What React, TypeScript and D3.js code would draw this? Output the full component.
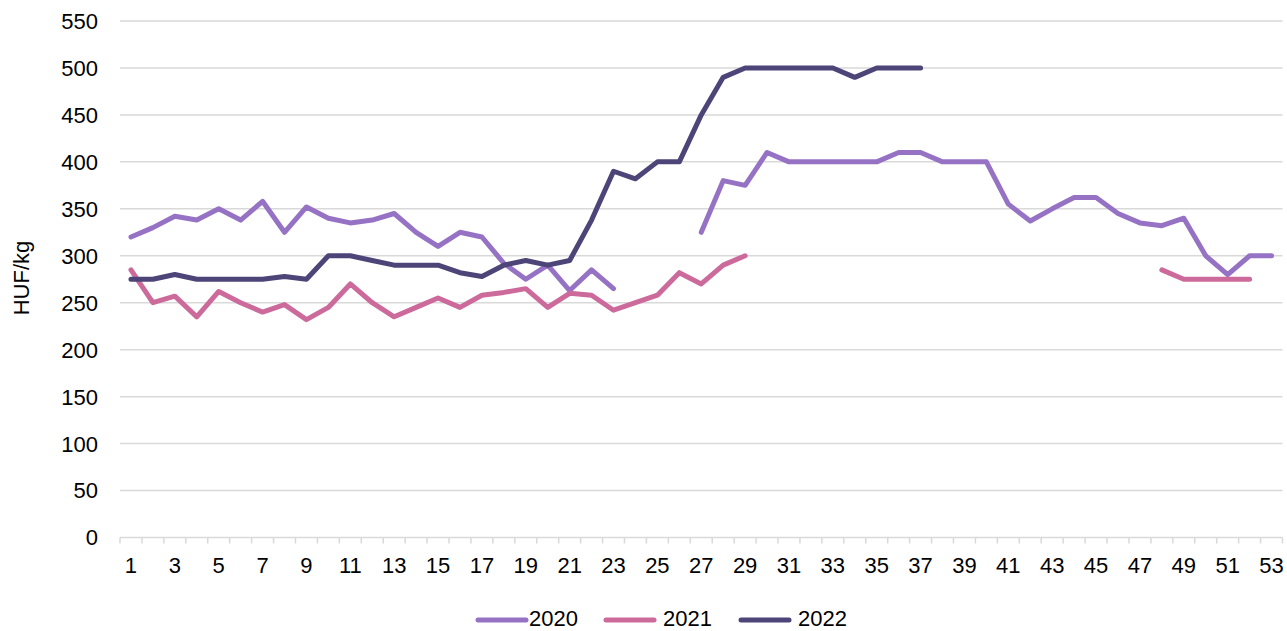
import { line, scaleBand, scaleLinear } from "d3";

const WIDTH = 1287;
const HEIGHT = 631;
const LEFT = 120;
const RIGHT = 1282.5;
const TOP = 21;
const BOTTOM = 537.5;

const weeks = Array.from({ length: 53 }, (_, i) => i + 1);
const yTicks = [0, 50, 100, 150, 200, 250, 300, 350, 400, 450, 500, 550];

const y2020 = [
  320, 330, 342, 338, 350, 338, 358, 325, 352, 340,
  335, 338, 345, 325, 310, 325, 320, 292, 275, 290,
  263, 285, 265, null, null, null, 325, 380, 375, 410,
  400, 400, 400, 400, 400, 410, 410, 400, 400, 400,
  355, 337, 350, 362, 362, 345, 335, 332, 340, 300,
  280, 300, 300,
];
const y2021 = [
  285, 250, 257, 235, 262, 250, 240, 248, 232, 245,
  270, 250, 235, 245, 255, 245, 258, 261, 265, 245,
  260, 258, 242, 250, 258, 282, 270, 290, 300, null,
  null, null, null, null, null, null, null, null, null, null,
  null, null, null, null, null, null, null, 285, 275, 275,
  275, 275, null,
];
const y2022 = [
  275, 275, 280, 275, 275, 275, 275, 278, 275, 300,
  300, 295, 290, 290, 290, 282, 278, 290, 295, 290,
  295, 338, 390, 382, 400, 400, 450, 490, 500, 500,
  500, 500, 500, 490, 500, 500, 500,
];

const seriesList = [
  { name: "2020", values: y2020, color: "#9672c5" },
  { name: "2021", values: y2021, color: "#cc6b9b" },
  { name: "2022", values: y2022, color: "#4d4478" },
];

const FONT = "Liberation Sans, Arial, sans-serif";
const FONT_SIZE = 22;
const LEGEND_Y = 619;

export default function App() {
  const x = scaleBand<number>().domain(weeks).range([LEFT, RIGHT]).padding(0);
  const y = scaleLinear().domain([0, 550]).range([BOTTOM, TOP]);
  const half = x.bandwidth() / 2;

  const pathFor = (values: (number | null)[]) =>
    line<number | null>()
      .defined((d) => d != null)
      .x((_, i) => (x(weeks[i]) ?? 0) + half)
      .y((d) => y(d as number))(values) ?? "";

  const legendItems = [
    { lx: 478, tx: 529 },
    { lx: 606, tx: 663 },
    { lx: 741, tx: 798 },
  ];

  return (
    <div style={{ position: "absolute", left: 0, top: 0 }}>
      <svg width={WIDTH} height={HEIGHT} style={{ display: "block", background: "#fff" }}>
        {yTicks.map((t) => (
          <g key={t}>
            {t > 0 && (
              <line x1={LEFT} x2={RIGHT} y1={y(t)} y2={y(t)} stroke="#d9d9d9" strokeWidth={1.5} />
            )}
            <text
              x={98}
              y={y(t)}
              dy="0.36em"
              textAnchor="end"
              fontFamily={FONT}
              fontSize={FONT_SIZE}
              fill="#000"
            >
              {t}
            </text>
          </g>
        ))}
        <line x1={LEFT} x2={RIGHT} y1={y(0)} y2={y(0)} stroke="#d9d9d9" strokeWidth={1.5} />
        {[...weeks.map((w) => x(w) ?? 0), RIGHT].map((px, i) => (
          <line key={i} x1={px} x2={px} y1={y(0)} y2={y(0) + 6} stroke="#d9d9d9" strokeWidth={1.5} />
        ))}
        {weeks
          .filter((w) => w % 2 === 1)
          .map((w) => (
            <text
              key={w}
              x={(x(w) ?? 0) + half}
              y={573}
              textAnchor="middle"
              fontFamily={FONT}
              fontSize={FONT_SIZE}
              fill="#000"
            >
              {w}
            </text>
          ))}
        <text
          transform={`translate(29,278) rotate(-90)`}
          textAnchor="middle"
          fontFamily={FONT}
          fontSize={FONT_SIZE}
          fill="#000"
        >
          HUF/kg
        </text>
        {seriesList.map((s) => (
          <path
            key={s.name}
            d={pathFor(s.values)}
            fill="none"
            stroke={s.color}
            strokeWidth={5}
            strokeLinejoin="round"
            strokeLinecap="round"
          />
        ))}
        {seriesList.map((s, i) => (
          <g key={s.name}>
            <line
              x1={legendItems[i].lx}
              x2={legendItems[i].lx + 48}
              y1={LEGEND_Y + 1}
              y2={LEGEND_Y + 1}
              stroke={s.color}
              strokeWidth={5}
              strokeLinecap="round"
            />
            <text
              x={legendItems[i].tx}
              y={626}
              fontFamily={FONT}
              fontSize={FONT_SIZE}
              fill="#000"
            >
              {s.name}
            </text>
          </g>
        ))}
      </svg>
    </div>
  );
}
